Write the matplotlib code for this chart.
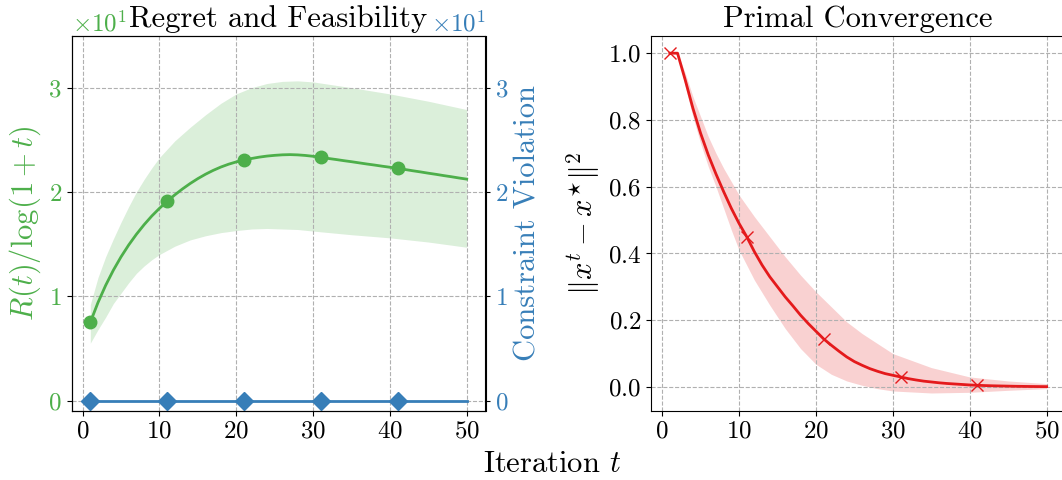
import matplotlib
matplotlib.use('Agg')
import matplotlib.pyplot as plt
from matplotlib.ticker import MultipleLocator

plt.rcParams['font.family'] = 'serif'
plt.rcParams['font.serif'] = ['cmr10']
plt.rcParams['mathtext.fontset'] = 'cm'
plt.rcParams['axes.formatter.use_mathtext'] = True
plt.rcParams['axes.unicode_minus'] = False

# iterations
t = list(range(1, 51))
band_t = [1, 2, 3, 4, 5, 6, 7, 8, 9, 10, 12, 14, 16, 18, 20, 22, 24, 26, 28, 30, 35, 40, 45, 50]

# regret R(t)/log(1+t)
regret = [7.5, 9.4, 11.05, 12.5, 13.78, 14.92, 15.94, 16.86, 17.69, 18.43,
          19.1, 19.72, 20.29, 20.81, 21.28, 21.70, 22.07, 22.39, 22.66, 22.88,
          23.06, 23.21, 23.34, 23.44, 23.51, 23.56, 23.58, 23.555, 23.50, 23.42,
          23.32, 23.21, 23.11, 23.0, 22.90, 22.79, 22.68, 22.58, 22.47, 22.37,
          22.26, 22.15, 22.03, 21.92, 21.80, 21.69, 21.57, 21.46, 21.34, 21.23]
regret_hi = [9.2, 11.8, 13.8, 15.5, 17.1, 18.6, 20.0, 21.2, 22.3, 23.3,
             24.9, 26.2, 27.4, 28.5, 29.4, 30.0, 30.4, 30.6, 30.65, 30.55,
             30.0, 29.4, 28.7, 27.9]
regret_lo = [5.5, 6.8, 8.0, 9.3, 10.3, 11.3, 12.2, 12.9, 13.5, 14.0,
             14.8, 15.4, 15.8, 16.1, 16.3, 16.45, 16.5, 16.45, 16.4, 16.25,
             15.9, 15.6, 15.2, 14.7]

# constraint violation
viol_t = [1, 11, 21, 31, 41, 50]
viol = [0.0, 0.0, 0.0, 0.0, 0.0, 0.0]

# primal distance ||x^t - x*||^2
dist = [1.0, 1.0, 0.92, 0.835, 0.76, 0.695, 0.638, 0.585, 0.535, 0.49,
        0.45, 0.405, 0.365, 0.33, 0.30, 0.27, 0.243, 0.215, 0.19, 0.167,
        0.144, 0.125, 0.107, 0.09, 0.076, 0.065, 0.055, 0.047, 0.04, 0.035,
        0.030, 0.025, 0.021, 0.0175, 0.015, 0.0125, 0.0105, 0.009, 0.0075, 0.006,
        0.005, 0.0042, 0.0035, 0.003, 0.0025, 0.002, 0.0017, 0.0014, 0.0012, 0.001]
dist_hi = [1.0, 1.0, 0.94, 0.87, 0.81, 0.75, 0.70, 0.655, 0.615, 0.575,
           0.51, 0.45, 0.39, 0.335, 0.285, 0.24, 0.195, 0.16, 0.13, 0.10,
           0.058, 0.03, 0.018, 0.01]
dist_lo = [1.0, 1.0, 0.90, 0.81, 0.73, 0.66, 0.60, 0.535, 0.47, 0.41,
           0.32, 0.245, 0.175, 0.115, 0.068, 0.038, 0.018, 0.005, -0.005, -0.012,
           -0.018, -0.016, -0.01, -0.005]

green = '#4daf4a'
blue = '#377eb8'
red = '#e41a1c'

fig = plt.figure(figsize=(10.62, 4.8), dpi=100)
W, H = 1062, 480
ax1 = fig.add_axes([71.5 / W, 69 / H, 414 / W, 375.5 / H])
ax2 = ax1.twinx()
ax3 = fig.add_axes([651 / W, 69 / H, 414.5 / W, 375.5 / H])

# left: regret + feasibility
ax1.fill_between(band_t, regret_lo, regret_hi, color=green, alpha=0.2, lw=0)
ax1.plot(t, regret, color=green, lw=2, marker='o', ms=9, markevery=10)
ax2.plot(viol_t, viol, color=blue, lw=2, marker='D', ms=9, markevery=[0, 1, 2, 3, 4])

for a in (ax1, ax2):
    a.set_ylim(-1, 35)
    a.yaxis.set_major_locator(MultipleLocator(10))
    a.ticklabel_format(axis='y', style='sci', scilimits=(0, 0))
    a.tick_params(labelsize=18)
ax1.tick_params(axis='y', labelcolor=green)
ax2.tick_params(axis='y', labelcolor=blue)
ax1.yaxis.get_offset_text().set_color(green)
ax1.yaxis.get_offset_text().set_fontsize(18)
ax2.yaxis.get_offset_text().set_color(blue)
ax2.yaxis.get_offset_text().set_fontsize(18)
ax1.set_xticks([0, 10, 20, 30, 40, 50])
ax1.grid(True, ls='--', color='#b0b0b0', lw=0.8)
ax1.set_ylabel(r'$R(t)/\log(1+t)$', color=green, fontsize=22)
ax2.set_ylabel('Constraint Violation', color=blue, fontsize=22)
ax1.set_title('Regret and Feasibility', fontsize=22)

# right: primal convergence
ax3.fill_between(band_t, dist_lo, dist_hi, color=red, alpha=0.2, lw=0)
ax3.plot(t, dist, color=red, lw=2, marker='x', ms=9, markevery=10)
ax3.set_ylim(-0.072, 1.053)
ax3.set_xticks([0, 10, 20, 30, 40, 50])
ax3.tick_params(labelsize=18)
ax3.grid(True, ls='--', color='#b0b0b0', lw=0.8)
ax3.set_ylabel(r'$\|x^t - x^{\star}\|^2$', fontsize=22)
ax3.set_title('Primal Convergence', fontsize=22)

fig.text(552 / W, 1 - 472 / H, 'Iteration $t$', fontsize=22, ha='center', va='baseline')

fig.savefig('out.png', dpi=100)
